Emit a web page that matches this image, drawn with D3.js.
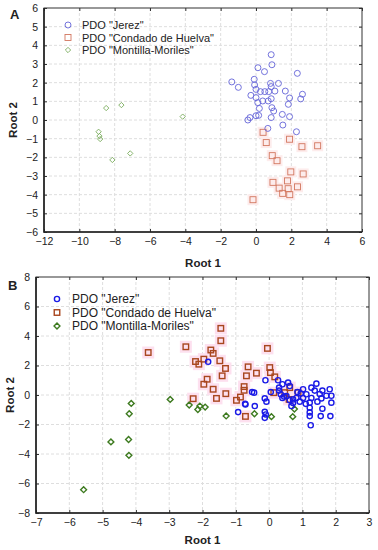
<!DOCTYPE html>
<html>
<head>
<meta charset="utf-8">
<script src="https://cdn.jsdelivr.net/npm/d3@7"></script>
<style>
  body { margin: 0; background: #fff; }
  svg { display: block; font-family: 'Liberation Sans', Arial, sans-serif; }
</style>
</head>
<body>
<svg id="chart" width="378" height="550"></svg>
<script>
// panel A data [root1, root2]
const jerezA = [
  [0.86,3.5],[0.9,2.96],[0.11,2.8],[0.48,2.59],[2.34,2.5],[-1.37,2.04],[-1.0,1.75],
  [-0.1,2.18],[-0.08,1.88],[0.82,1.96],[1.27,1.96],[0.86,1.79],[0.0,1.64],[0.25,1.52],
  [0.5,1.52],[0.72,1.52],[1.07,1.55],[1.66,1.55],[1.9,1.18],[2.63,1.38],[2.53,1.13],
  [-0.29,1.32],[0.0,1.2],[0.1,0.93],[0.38,1.02],[0.86,1.14],[0.69,1.02],[1.83,0.84],
  [0.9,0.66],[1.0,0.48],[0.19,0.62],[1.49,0.3],[1.9,0.18],[0.86,0.13],[0.0,0.23],
  [0.15,0.25],[-0.34,0.13],[-0.46,0.0],[1.52,-0.27],[0.67,-0.45],[2.29,-0.63]
]
const condadoA = [
  [0.4,-0.66],[1.9,-1.03],[0.58,-1.21],[2.6,-1.43],[3.49,-1.38],[0.92,-1.91],[1.19,-2.18],
  [1.97,-2.78],[2.67,-2.89],[0.96,-3.34],[1.78,-3.26],[2.35,-3.58],[1.31,-3.65],[1.82,-3.68],
  [1.51,-3.93],[1.91,-4.0],[-0.17,-4.27]
]
const montillaA = [
  [-8.48,0.64],[-7.62,0.8],[-4.15,0.18],[-8.91,-0.63],[-8.86,-0.86],[-8.82,-1.02],
  [-8.13,-2.14],[-7.12,-1.79]
]

// panel B data [root1, root2]
const jerezB = [
  [-1.83,2.25],[-0.11,1.0],[-0.51,0.2],[-0.45,0.16],[-0.13,-0.23],[-0.08,-0.45],[-0.71,-0.64],
  [-0.43,-0.75],[-0.93,-1.16],[-0.13,-1.14],[-0.1,-1.32],[-0.13,-1.55],[0.27,1.0],[0.4,0.73],
  [0.57,0.84],[0.62,0.61],[0.3,0.3],[0.35,0.05],[0.45,-0.1],[0.62,-0.35],[0.72,-0.55],
  [0.3,0.5],[1.02,0.39],[1.12,0.05],[1.27,0.5],[1.42,0.77],[1.37,0.3],[1.52,0.07],[1.6,0.3],
  [1.82,0.39],[1.87,-0.05],[1.87,-0.52],[1.57,-0.23],[1.72,-0.05],[1.27,-0.2],[1.22,-0.52],
  [1.02,-0.2],[0.92,-0.45],[0.82,-0.2],[1.22,-0.86],[1.22,-1.18],[1.22,-1.43],[1.25,-2.05],
  [1.6,-0.93],[1.55,-1.43],[1.84,-1.43],[0.67,-0.75],[0.72,-0.3],[0.52,-0.07],[0.4,-0.2],
  [0.95,0.1],[1.1,-0.6],[1.45,-0.45],[0.85,0.2],[0.05,0.2],[-0.72,-0.6]
]
const condadoB = [
  [-3.63,2.88],[-2.5,3.27],[-1.45,4.52],[-1.45,3.68],[-1.75,3.05],[-1.68,2.82],[-1.48,2.32],
  [-2.21,2.27],[-2.11,2.09],[-1.96,2.43],[-1.31,1.8],[-1.41,1.3],[-1.86,1.07],[-1.96,0.73],
  [-1.68,0.39],[-1.3,0.09],[-1.58,-0.23],[-2.28,-0.25],[-0.63,1.91],[-0.68,1.3],[-0.38,1.48],
  [-0.75,0.57],[-0.75,0.32],[-0.86,-0.14],[-0.98,-0.36],[-0.71,-1.45],[-0.05,3.16],[0.02,1.86],
  [0.04,1.52],[0.17,1.23],[0.14,0.16],[0.47,0.16],[0.62,0.5],[0.6,-0.3],[0.87,0.16]
]
const montillaB = [
  [-4.14,-0.57],[-2.97,-0.3],[-2.4,-0.68],[-2.08,-0.75],[-1.92,-0.82],[-4.2,-1.27],
  [-2.14,-0.98],[-1.29,-1.42],[-0.44,-1.27],[0.07,-1.47],[0.71,-1.47],[0.76,-0.95],
  [-4.75,-3.18],[-4.22,-3.02],[-4.21,-4.09],[-5.57,-6.42]
]

const legendNames = ['PDO "Jerez"', 'PDO "Condado de Huelva"', 'PDO "Montilla-Moriles"']

const ticksAx = d3.range(-12, 7, 2)
const ticksAy = d3.range(-6, 7, 1)
const ticksBx = d3.range(-7, 4, 1)
const ticksBy = d3.range(-8, 9, 2)

const svg = d3.select('#chart')

const symDiamond = d3.symbol().type(d3.symbolDiamond2)
const fmt = d => d < 0 ? '\u2212' + Math.abs(d) : d

function drawPanel(cfg) {
  const x = d3.scaleLinear().domain(cfg.xDomain).range([cfg.left, cfg.right])
  const y = d3.scaleLinear().domain(cfg.yDomain).range([cfg.bottom, cfg.top])
  const g = svg.append('g')

  // grid
  g.selectAll('.gx').data(cfg.xTicks.slice(1, -1)).join('line')
    .attr('x1', d => x(d)).attr('x2', d => x(d))
    .attr('y1', cfg.top).attr('y2', cfg.bottom)
    .attr('stroke', '#dedede').attr('stroke-dasharray', '3,2')
  g.selectAll('.gy').data(cfg.yTicks.slice(1, -1)).join('line')
    .attr('y1', d => y(d)).attr('y2', d => y(d))
    .attr('x1', cfg.left).attr('x2', cfg.right)
    .attr('stroke', '#dedede').attr('stroke-dasharray', '3,2')

  // axes, ticks point inwards on all four sides
  const axes = [
    [d3.axisBottom(x).tickValues(cfg.xTicks).tickFormat(fmt), `translate(0,${cfg.bottom})`, true],
    [d3.axisLeft(y).tickValues(cfg.yTicks).tickFormat(fmt), `translate(${cfg.left},0)`, true],
    [d3.axisTop(x).tickValues(cfg.xTicks).tickFormat(''), `translate(0,${cfg.top})`, false],
    [d3.axisRight(y).tickValues(cfg.yTicks).tickFormat(''), `translate(${cfg.right},0)`, false]
  ]
  axes.forEach(([ax, tr, labels]) => {
    g.append('g').attr('transform', tr).call(ax.tickSize(-3).tickPadding(6))
      .call(a => a.select('.domain').remove())
      .call(a => a.selectAll('line').attr('stroke', '#333'))
      .selectAll('text').attr('font-size', 10.5).attr('fill', '#222')
  })

  // frame, left and bottom a bit heavier
  g.append('rect')
    .attr('x', cfg.left).attr('y', cfg.top)
    .attr('width', cfg.right - cfg.left).attr('height', cfg.bottom - cfg.top)
    .attr('fill', 'none').attr('stroke', '#333').attr('stroke-width', 1)
  g.append('path')
    .attr('d', `M${cfg.left},${cfg.top}V${cfg.bottom}H${cfg.right}`)
    .attr('fill', 'none').attr('stroke', '#222').attr('stroke-width', 1.6)

  // pink halos behind the squares
  g.selectAll('.halo').data(cfg.condado).join('rect')
    .attr('x', d => x(d[0]) - cfg.halo / 2).attr('y', d => y(d[1]) - cfg.halo / 2)
    .attr('width', cfg.halo).attr('height', cfg.halo)
    .attr('fill', cfg.haloColor)

  g.selectAll('.mm').data(cfg.montilla).join('path')
    .attr('d', symDiamond.size(cfg.diamondSize))
    .attr('transform', d => `translate(${x(d[0])},${y(d[1])})`)
    .attr('fill', 'none').attr('stroke', cfg.colors[2]).attr('stroke-width', cfg.sw)
  g.selectAll('.ch').data(cfg.condado).join('rect')
    .attr('x', d => x(d[0]) - cfg.sq / 2).attr('y', d => y(d[1]) - cfg.sq / 2)
    .attr('width', cfg.sq).attr('height', cfg.sq)
    .attr('fill', 'none').attr('stroke', cfg.colors[1]).attr('stroke-width', cfg.sw)
  g.selectAll('.jz').data(cfg.jerez).join('circle')
    .attr('cx', d => x(d[0])).attr('cy', d => y(d[1])).attr('r', cfg.r)
    .attr('fill', 'none').attr('stroke', cfg.colors[0]).attr('stroke-width', cfg.sw)

  // legend
  const lg = g.append('g')
  legendNames.forEach((name, i) => {
    const ly = cfg.legY + i * cfg.legStep
    if (i === 0) {
      lg.append('circle').attr('cx', cfg.legX).attr('cy', ly).attr('r', cfg.r)
        .attr('fill', 'none').attr('stroke', cfg.colors[0]).attr('stroke-width', cfg.sw)
    } else if (i === 1) {
      lg.append('rect').attr('x', cfg.legX - cfg.sq / 2).attr('y', ly - cfg.sq / 2)
        .attr('width', cfg.sq).attr('height', cfg.sq)
        .attr('fill', 'none').attr('stroke', cfg.colors[1]).attr('stroke-width', cfg.sw)
    } else {
      lg.append('path').attr('d', symDiamond.size(cfg.diamondSize))
        .attr('transform', `translate(${cfg.legX},${ly})`)
        .attr('fill', 'none').attr('stroke', cfg.colors[2]).attr('stroke-width', cfg.sw)
    }
    lg.append('text').attr('x', cfg.legX + cfg.legGap).attr('y', ly + 4)
      .attr('font-size', cfg.legFont).attr('fill', '#222').text(name)
  })

  // titles
  g.append('text').attr('x', (cfg.left + cfg.right) / 2).attr('y', cfg.xTitleY)
    .attr('text-anchor', 'middle').attr('font-size', 11.5).attr('font-weight', 'bold')
    .attr('fill', '#222').text('Root 1')
  g.append('text')
    .attr('transform', `translate(${cfg.yTitleX},${(cfg.top + cfg.bottom) / 2}) rotate(-90)`)
    .attr('text-anchor', 'middle').attr('font-size', 11.5).attr('font-weight', 'bold')
    .attr('fill', '#222').text('Root 2')
  g.append('text').attr('x', cfg.labelX).attr('y', cfg.labelY)
    .attr('font-size', 13).attr('font-weight', 'bold').attr('fill', '#222').text(cfg.label)
}

drawPanel({
  label: 'A', labelX: 10, labelY: 19,
  left: 44, right: 362, top: 8, bottom: 232,
  xDomain: [-12, 6], yDomain: [-6, 6], xTicks: ticksAx, yTicks: ticksAy,
  jerez: jerezA, condado: condadoA, montilla: montillaA,
  colors: ['#6464d8', '#d2775f', '#79ab5c'],
  r: 3, sq: 6, diamondSize: 18, sw: 0.9, halo: 11, haloColor: '#fdecec',
  legX: 68, legY: 25, legStep: 12.5, legGap: 14, legFont: 11,
  xTitleY: 267, yTitleX: 17
})

drawPanel({
  label: 'B', labelX: 8, labelY: 290,
  left: 36, right: 369, top: 277, bottom: 513,
  xDomain: [-7, 3], yDomain: [-8, 8], xTicks: ticksBx, yTicks: ticksBy,
  colors: ['#1a1ae6', '#a8461e', '#3d7a1f'],
  jerez: jerezB, condado: condadoB, montilla: montillaB,
  r: 2.6, sq: 5.5, diamondSize: 22, sw: 1.4, halo: 12, haloColor: '#fde0ef',
  legX: 57, legY: 299, legStep: 13.5, legGap: 15, legFont: 12,
  xTitleY: 544, yTitleX: 14
})
</script>
</body>
</html>
